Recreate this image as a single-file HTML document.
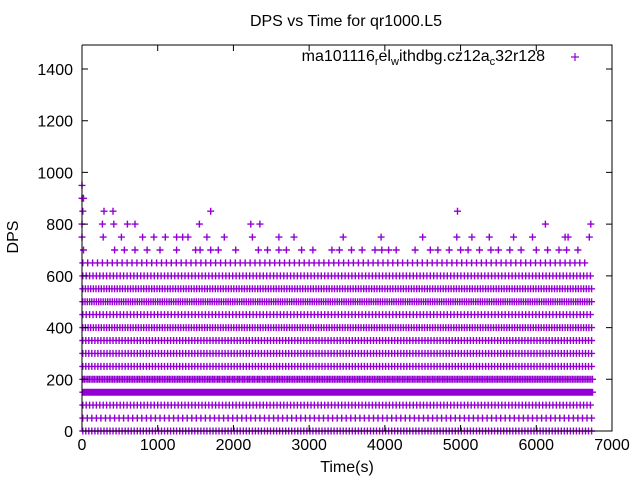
<!DOCTYPE html>
<html><head><meta charset="utf-8"><style>
body{margin:0;background:#fff;}
svg{display:block;font-family:"Liberation Sans",sans-serif;}
</style></head><body>
<svg id="chart" width="640" height="480" viewBox="0 0 640 480">
<rect width="640" height="480" fill="#fff"/>
<text x="346" y="26" font-size="16" text-anchor="middle">DPS vs Time for qr1000.L5</text>
<text x="18" y="237" font-size="16" text-anchor="middle" transform="rotate(-90 18 237)">DPS</text>
<text x="347" y="472" font-size="16" text-anchor="middle">Time(s)</text>
<g id="marks"></g>
<g id="axes"></g>
<g>
<text x="545" y="61" font-size="16" text-anchor="end">ma101116<tspan font-size="11" dy="4">r</tspan><tspan dy="-4">el</tspan><tspan font-size="11" dy="4">w</tspan><tspan dy="-4">ithdbg.cz12a</tspan><tspan font-size="11" dy="4">c</tspan><tspan dy="-4">32r128</tspan></text>
<path d="M571,57h8M575,53v8" stroke="#9400d3" stroke-width="1.2"/>
</g>
</svg>
<script>
const xTicks=[0,1000,2000,3000,4000,5000,6000,7000];
const yTicks=[0,200,400,600,800,1000,1200,1400];
const denseLevels=[0,50,100,150,200,250,300,350,400,450,500,550,600,650];
const denseStepSec=[40,60,45,14,22,40,40,40,35,45,30,35,45,65];
const denseEndSec=[6750,6750,6750,6750,6750,6750,6750,6750,6750,6750,6750,6750,6750,6700];
const sparse700=[20,430,560,700,860,1030,1250,1500,1560,1700,1800,2030,2330,2450,2600,2700,2900,3050,3300,3400,3560,3700,3870,3960,4050,4150,4400,4600,4700,4850,5000,5100,5250,5400,5500,5650,5800,6000,6150,6300,6400,6550];
const sparse750=[0,280,520,800,950,1100,1250,1330,1400,1650,1880,2250,2600,2800,3450,3950,4500,4950,5150,5380,5700,5950,6380,6420,6700];
const sparse800=[0,270,420,600,700,1550,2230,2350,6120,6720];
const sparse850=[10,290,410,1700,4960];
const sparse900=[0,20];
const sparse950=[0];
const X0=82,X1=612,Y0=431,Y1=69;
function sx(v){return X0+(v/7000)*(X1-X0);}
function sy(v){return Y0-(v/1400)*(Y0-Y1);}
const NS="http://www.w3.org/2000/svg";
const marks=document.getElementById('marks');
let d="";
function plus(t,v){const x=sx(t),y=sy(v);d+="M"+(x-3.5).toFixed(1)+","+y.toFixed(1)+"h7M"+x.toFixed(1)+","+(y-3.5).toFixed(1)+"v7";}
denseLevels.forEach((lv,i)=>{for(let t=10;t<=denseEndSec[i];t+=denseStepSec[i])plus(t,lv);});
[[sparse700,700],[sparse750,750],[sparse800,800],[sparse850,850],[sparse900,900],[sparse950,950]].forEach(([arr,lv])=>arr.forEach(t=>plus(t,lv)));
const p=document.createElementNS(NS,'path');


p.setAttribute('d',d);p.setAttribute('stroke','#9400d3');p.setAttribute('stroke-width','1.4');p.setAttribute('fill','none');
marks.appendChild(p);
const axes=document.getElementById('axes');
let a="M"+X0+","+45+"V"+Y0+"H"+X1+"V45H"+X0;
xTicks.forEach(t=>{const x=sx(t);a+="M"+x+","+Y0+"v-6M"+x+",45v6";
 const tx=document.createElementNS(NS,'text');
 
 
 tx.setAttribute('x',x);tx.setAttribute('y',450);tx.setAttribute('font-size','16');tx.setAttribute('text-anchor','middle');tx.textContent=t;axes.appendChild(tx);});
yTicks.forEach(v=>{const y=sy(v);a+="M"+X0+","+y+"h6M"+X1+","+y+"h-6";
 const tx=document.createElementNS(NS,'text');
 
 
 tx.setAttribute('x',73);tx.setAttribute('y',y+6);tx.setAttribute('font-size','16');tx.setAttribute('text-anchor','end');tx.textContent=v;axes.appendChild(tx);});
const ap=document.createElementNS(NS,'path');


ap.setAttribute('d',a);ap.setAttribute('stroke','#000');ap.setAttribute('stroke-width','1');ap.setAttribute('fill','none');
axes.insertBefore(ap,axes.firstChild);
</script>
</body></html>
